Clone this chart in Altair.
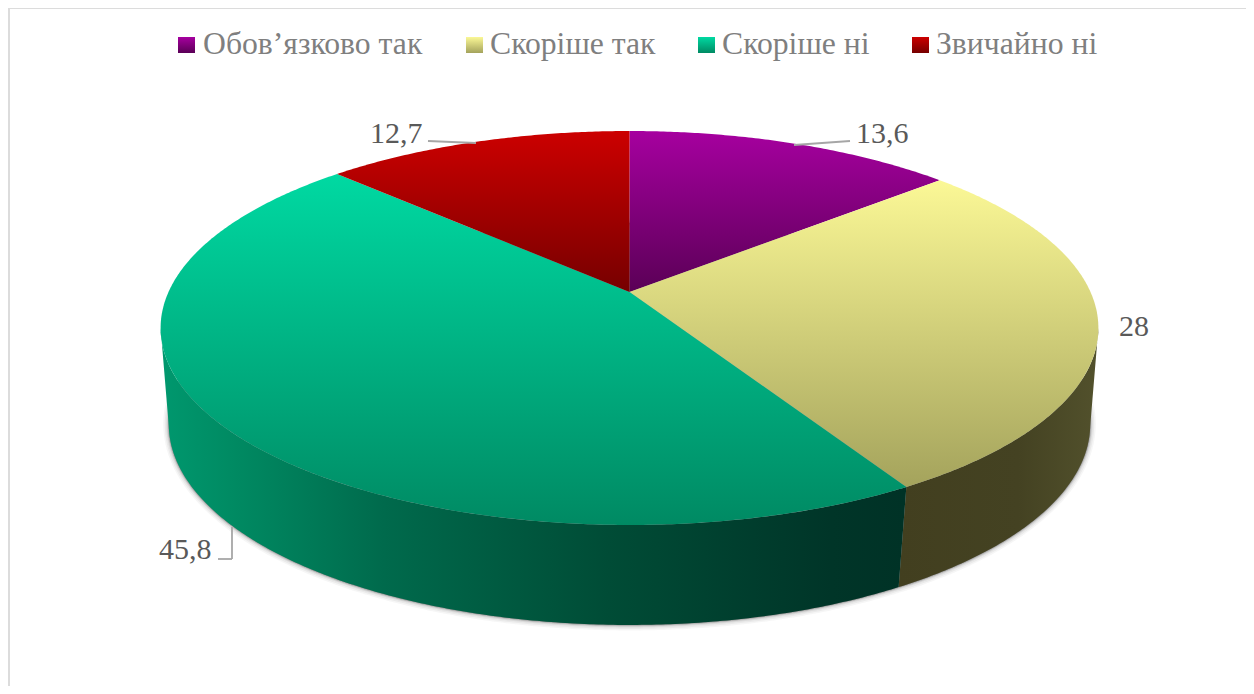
import math
import altair as alt

categories = ["Обов’язково так", "Скоріше так", "Скоріше ні", "Звичайно ні"]
values = [13.6, 28, 45.8, 12.7]
value_labels = ["13,6", "28", "45,8", "12,7"]
top_stops = [
    [("#a6009f", 0), ("#5a0056", 1)],
    [("#fbf896", 0), ("#a4a35c", 1)],
    [("#00d9a2", 0), ("#008a63", 1)],
    [("#cc0000", 0), ("#760000", 1)],
]
swatch_x = [178, 466, 698, 912]
text_x = [203, 490, 722, 936]
OFF = 8
TOP = dict(cx=629.5, cy=292, a=461, b=190.4, k=0.1827)
BOT = dict(cx=629.5, cy=390, a=454, b=195, k=0.17)


def pt(theta_deg, r, ring):
    t = math.radians(theta_deg)
    u, v = r * math.sin(t), r * math.cos(t)
    d = 1 + ring["k"] * v
    return [ring["cx"] + ring["a"] * u / d - OFF, ring["cy"] - ring["b"] * v / d - OFF]


def arc(a0, a1, ring):
    n = max(2, int(abs(a1 - a0) * 2))
    return [pt(a0 + (a1 - a0) * i / n, 1, ring) for i in range(n + 1)]


def feature(coords):
    return {"type": "Feature", "properties": {},
            "geometry": {"type": "Polygon", "coordinates": [coords + [coords[0]]]}}


def vgrad(stops):
    return alt.Gradient(gradient="linear", x1=0, x2=0, y1=0, y2=1,
                        stops=[alt.GradientStop(color=c, offset=o) for c, o in stops])


def hgrad(stops):
    return alt.Gradient(gradient="linear", x1=0, x2=1, y1=0, y2=0,
                        stops=[alt.GradientStop(color=c, offset=o) for c, o in stops])


def shape(coords, **kw):
    return alt.Chart(alt.Data(values=[feature(coords)])).mark_geoshape(**kw).project(
        type="identity", scale=1, translate=[0, 0])


total = sum(values)
edges = [0]
for val in values:
    edges.append(edges[-1] + val / total * 360)

layers = []

# frame
layers.append(alt.Chart(alt.Data(values=[{}])).mark_rule(color="#dcdcdc", strokeWidth=2).encode(
    x=alt.value(1), y=alt.value(0), y2=alt.value(678)))
layers.append(alt.Chart(alt.Data(values=[{}])).mark_rule(color="#dcdcdc", strokeWidth=2).encode(
    x=alt.value(0), x2=alt.value(1238), y=alt.value(0)))

# soft shadow under the disc
bottom_all = arc(0, 360, BOT)
for w, o in [(11, 0.05), (8, 0.07), (5, 0.1), (3, 0.16), (1.5, 0.25)]:
    layers.append(shape(bottom_all, fill="#555555", fillOpacity=o, stroke="#555555",
                        strokeWidth=w, strokeOpacity=o))

# side walls
right_ext, left_ext = 100.5, 259.5
wall_yellow = arc(right_ext, edges[2], TOP) + arc(edges[2], right_ext, BOT)
wall_green = arc(edges[2], left_ext, TOP) + arc(left_ext, edges[2], BOT)
layers.append(shape(wall_yellow, strokeWidth=0, fill=hgrad(
    [("#423f1f", 0), ("#444222", 0.6), ("#52512c", 1)])))
layers.append(shape(wall_green, strokeWidth=0, fill=hgrad(
    [("#00986e", 0), ("#008a62", 0.1), ("#006a4c", 0.3), ("#004c36", 0.6), ("#003528", 0.9), ("#003226", 1)])))

# top slices
for i in range(4):
    apex = pt(0, 0, TOP)
    coords = [apex] + arc(edges[i], edges[i + 1], TOP)
    layers.append(shape(coords, strokeWidth=0, fill=vgrad(top_stops[i])))

# leader lines
leaders = [(428, 141, 476, 143), (850, 141, 794, 145), (218, 559, 232, 559), (232, 559, 232, 527)]
for x0, y0, x1, y1 in leaders:
    layers.append(alt.Chart(alt.Data(values=[{}])).mark_rule(color="#a6a6a6", strokeWidth=1.8).encode(
        x=alt.value(x0 - OFF), x2=alt.value(x1 - OFF), y=alt.value(y0 - OFF), y2=alt.value(y1 - OFF)))

# value labels
label_pos = [(856, 143), (1119, 336), (159, 559), (370, 143)]
for lab, (x, y) in zip(value_labels, label_pos):
    layers.append(alt.Chart(alt.Data(values=[{"t": lab}])).mark_text(
        font="Liberation Serif", fontSize=30, color="#595959", align="left", baseline="alphabetic"
    ).encode(text="t:N", x=alt.value(x - OFF), y=alt.value(y - OFF)))

# legend
for i, cat in enumerate(categories):
    layers.append(alt.Chart(alt.Data(values=[{}])).mark_rect(fill=vgrad(top_stops[i]), strokeWidth=0).encode(
        x=alt.value(swatch_x[i] - OFF), x2=alt.value(swatch_x[i] + 17 - OFF),
        y=alt.value(37 - OFF), y2=alt.value(53 - OFF)))
    layers.append(alt.Chart(alt.Data(values=[{"t": cat}])).mark_text(
        font="Liberation Serif", fontSize=31.7, color="#7f7f7f", align="left", baseline="alphabetic"
    ).encode(text="t:N", x=alt.value(text_x[i] - OFF), y=alt.value(54 - OFF)))

chart = alt.layer(*layers).properties(
    width=1238, height=678, padding=0, background="white",
    autosize=alt.AutoSizeParams(type="none"),
).configure_view(stroke=None)

chart.save("out.html", embed_options={"renderer": "svg", "actions": False})
